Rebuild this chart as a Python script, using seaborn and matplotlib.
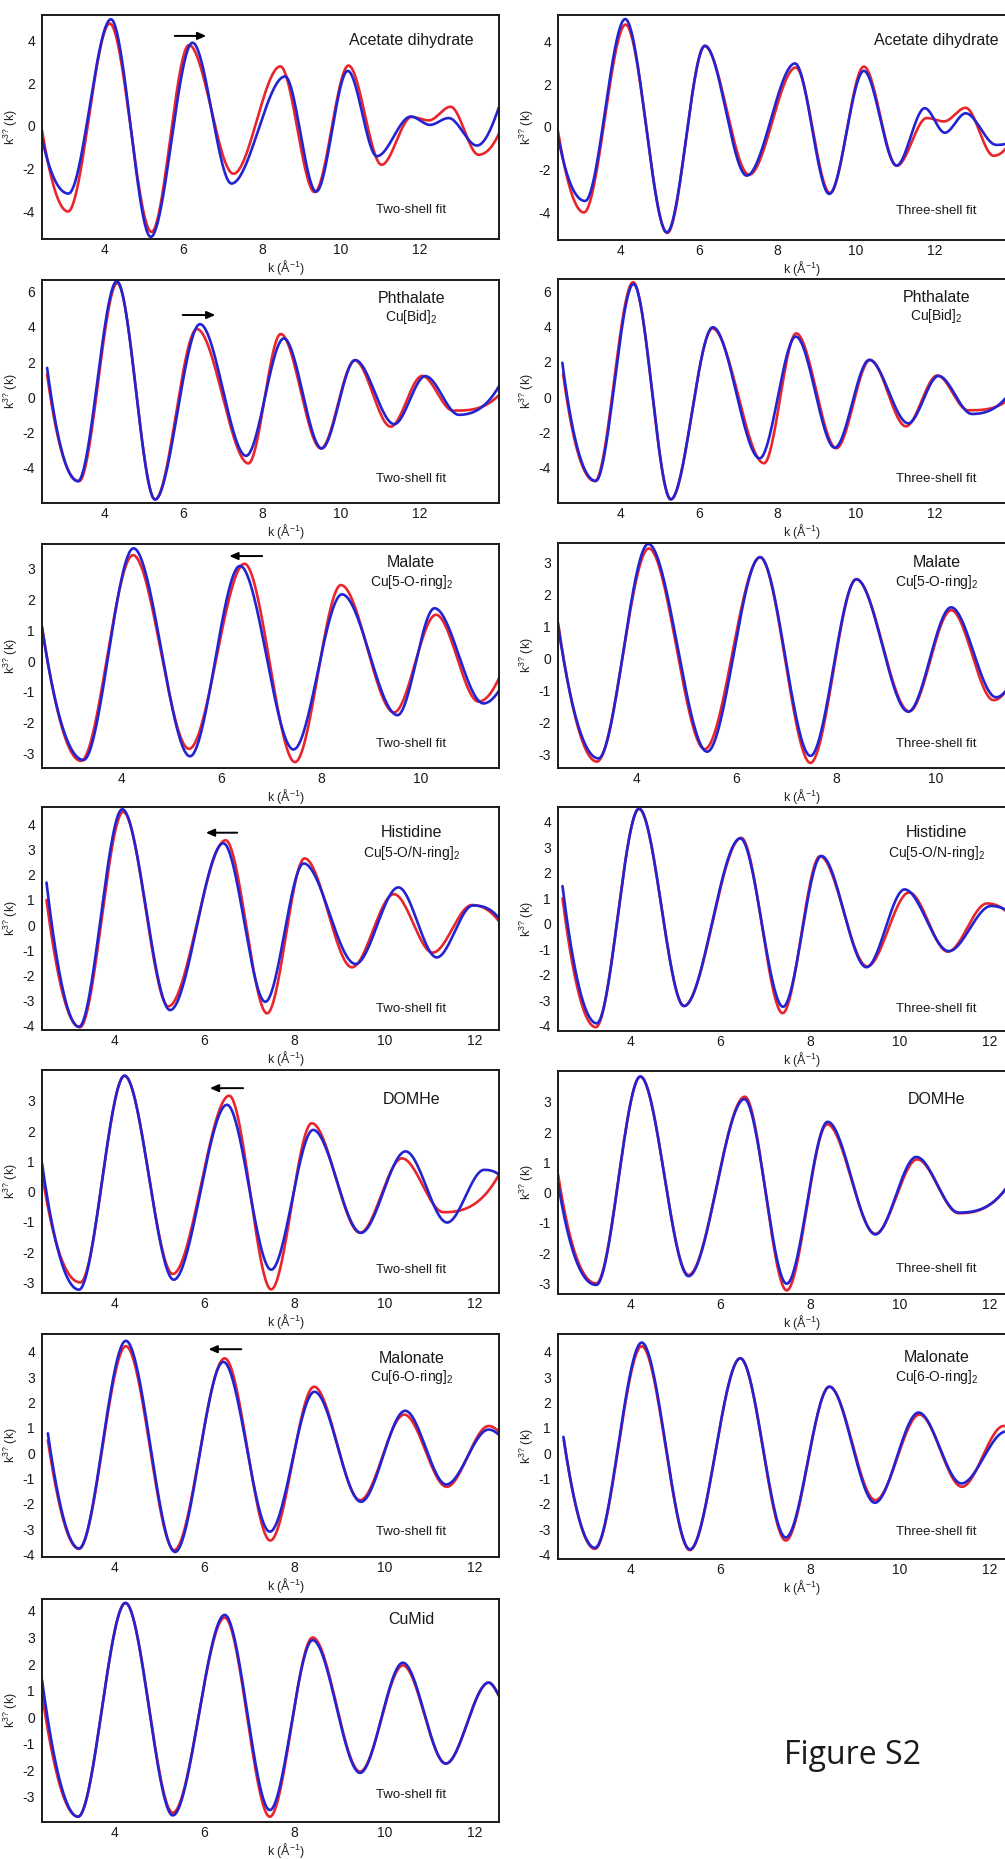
import numpy as np
import matplotlib
matplotlib.use("Agg")
import matplotlib.pyplot as plt
import seaborn as sns

# ---------------- data ----------------
# Row 1: Acetate dihydrate (red = data, blue = fit)
acetate_k_red = [2.42, 3.08, 4.14, 5.20, 6.15, 7.28, 8.47, 9.34, 10.20, 11.04, 11.80, 12.24, 12.79, 13.50, 14.02]
acetate_y_red = [-0.20, -4.01, 4.80, -4.97, 3.79, -2.24, 2.79, -3.10, 2.83, -1.82, 0.42, 0.26, 0.90, -1.35, -0.35]
acetate_k_two = [2.42, 3.09, 4.17, 5.18, 6.24, 7.23, 8.59, 9.38, 10.18, 10.92, 11.78, 12.27, 12.74, 13.46, 14.02]
acetate_y_two = [-0.60, -3.17, 5.00, -5.20, 3.90, -2.70, 2.32, -3.08, 2.58, -1.42, 0.44, 0.05, 0.37, -0.92, 0.89]
acetate_k_three = [2.42, 3.11, 4.13, 5.19, 6.16, 7.22, 8.45, 9.32, 10.20, 11.03, 11.75, 12.26, 12.79, 13.57, 14.02]
acetate_y_three = [-0.45, -3.47, 5.06, -4.94, 3.81, -2.28, 2.98, -3.14, 2.63, -1.81, 0.88, -0.27, 0.64, -0.84, -0.60]

# Row 2: Phthalate Cu[Bid]2
phthal_k_red = [2.55, 3.36, 4.33, 5.29, 6.35, 7.66, 8.48, 9.50, 10.36, 11.27, 12.07, 12.85, 14.02]
phthal_y_red = [1.30, -4.76, 6.50, -5.80, 3.88, -3.75, 3.60, -2.90, 2.10, -1.66, 1.22, -0.75, 0.13]
phthal_k_two = [2.55, 3.33, 4.32, 5.29, 6.43, 7.60, 8.56, 9.52, 10.37, 11.36, 12.15, 13.00, 14.02]
phthal_y_two = [1.68, -4.76, 6.60, -5.80, 4.16, -3.32, 3.35, -2.90, 2.12, -1.52, 1.21, -0.99, 0.64]
phthal_k_three = [2.53, 3.38, 4.34, 5.29, 6.36, 7.55, 8.47, 9.46, 10.34, 11.33, 12.10, 12.95, 14.02]
phthal_y_three = [1.94, -4.75, 6.40, -5.79, 3.95, -3.47, 3.42, -2.87, 2.10, -1.49, 1.19, -0.96, 0.60]

# Row 3: Malate Cu[5-O-ring]2
malate_k_red = [2.42, 3.20, 4.24, 5.36, 6.47, 7.48, 8.40, 9.46, 10.30, 11.15, 11.56]
malate_y_red = [1.12, -3.23, 3.43, -2.84, 3.15, -3.27, 2.46, -1.66, 1.50, -1.31, -0.55]
malate_k_two = [2.42, 3.25, 4.25, 5.38, 6.38, 7.45, 8.42, 9.53, 10.27, 11.25, 11.56]
malate_y_two = [1.09, -3.20, 3.65, -3.08, 3.08, -2.86, 2.16, -1.75, 1.71, -1.37, -0.96]
malate_k_three = [2.42, 3.23, 4.23, 5.41, 6.47, 7.48, 8.40, 9.44, 10.30, 11.20, 11.56]
malate_y_three = [1.04, -3.13, 3.57, -2.92, 3.16, -3.05, 2.47, -1.67, 1.59, -1.22, -0.60]

# Row 4: Histidine Cu[5-O/N-ring]2
hist_k_red = [2.50, 3.24, 4.20, 5.20, 6.47, 7.39, 8.22, 9.27, 10.20, 11.06, 11.93, 12.53]
hist_y_red = [1.00, -4.05, 4.50, -3.22, 3.37, -3.50, 2.65, -1.67, 1.23, -1.09, 0.80, 0.15]
hist_k_two = [2.50, 3.22, 4.18, 5.24, 6.42, 7.35, 8.20, 9.35, 10.30, 11.15, 11.95, 12.53]
hist_y_two = [1.69, -4.03, 4.60, -3.37, 3.25, -3.04, 2.45, -1.54, 1.50, -1.28, 0.78, 0.27]
hist_k_three = [2.50, 3.26, 4.20, 5.20, 6.45, 7.40, 8.25, 9.25, 10.10, 11.08, 12.02, 12.53]
hist_y_three = [1.48, -3.90, 4.52, -3.22, 3.35, -3.25, 2.66, -1.70, 1.35, -1.07, 0.70, 0.30]

# Row 5: DOMHe
domhe_k_red = [2.40, 3.25, 4.23, 5.30, 6.55, 7.48, 8.38, 9.45, 10.38, 11.30, 12.53]
domhe_y_red = [0.61, -3.00, 3.83, -2.72, 3.17, -3.23, 2.26, -1.36, 1.10, -0.68, 0.56]
domhe_k_two = [2.40, 3.22, 4.23, 5.32, 6.50, 7.48, 8.41, 9.47, 10.46, 11.38, 12.20, 12.53]
domhe_y_two = [0.94, -3.24, 3.83, -2.91, 2.87, -2.58, 2.04, -1.36, 1.33, -1.02, 0.72, 0.56]
domhe_k_three = [2.40, 3.25, 4.23, 5.30, 6.54, 7.48, 8.39, 9.45, 10.36, 11.30, 12.53]
domhe_y_three = [0.33, -3.05, 3.84, -2.76, 3.09, -3.01, 2.34, -1.38, 1.18, -0.66, 0.55]

# Row 6: Malonate Cu[6-O-ring]2
malon_k_red = [2.53, 3.22, 4.26, 5.33, 6.45, 7.46, 8.43, 9.45, 10.43, 11.37, 12.30, 12.53]
malon_y_red = [0.50, -3.78, 4.22, -3.83, 3.74, -3.45, 2.62, -1.86, 1.52, -1.33, 1.07, 0.85]
malon_k_two = [2.53, 3.22, 4.26, 5.35, 6.42, 7.45, 8.44, 9.47, 10.45, 11.36, 12.30, 12.53]
malon_y_two = [0.78, -3.76, 4.43, -3.90, 3.60, -3.10, 2.42, -1.92, 1.67, -1.24, 0.93, 0.72]
malon_k_three = [2.52, 3.22, 4.26, 5.33, 6.45, 7.46, 8.43, 9.44, 10.41, 11.36, 12.35, 12.53]
malon_y_three = [0.64, -3.74, 4.36, -3.80, 3.74, -3.33, 2.62, -1.96, 1.60, -1.20, 0.85, 0.80]

# Row 7: CuMid
cumid_k_red = [2.40, 3.20, 4.25, 5.30, 6.45, 7.45, 8.40, 9.45, 10.40, 11.35, 12.30, 12.53]
cumid_y_red = [0.90, -3.75, 4.30, -3.60, 3.75, -3.75, 3.00, -2.05, 1.95, -1.75, 1.30, 0.80]
cumid_k_two = [2.40, 3.20, 4.25, 5.30, 6.45, 7.45, 8.40, 9.45, 10.40, 11.35, 12.30, 12.53]
cumid_y_two = [1.40, -3.75, 4.30, -3.70, 3.85, -3.50, 2.90, -2.10, 2.05, -1.75, 1.30, 0.80]

# annotations: arrows (k start, k end, y)
arrows = {
    "acetate": (5.72, 6.66, 4.22),
    "phthal": (5.92, 6.89, 4.68),
    "malate": (6.88, 6.11, 3.40),
    "hist": (6.79, 5.97, 3.67),
    "domhe": (6.92, 6.06, 3.42),
    "malon": (6.88, 6.03, 4.10),
}

# ---------------- helpers ----------------
def pchip(xk, yk, xs):
    xk = np.asarray(xk, float); yk = np.asarray(yk, float)
    n = len(xk)
    h = np.diff(xk); d = np.diff(yk) / h
    m = np.zeros(n)
    for i in range(1, n - 1):
        if d[i - 1] * d[i] <= 0:
            m[i] = 0.0
        else:
            w1 = 2 * h[i] + h[i - 1]; w2 = h[i] + 2 * h[i - 1]
            m[i] = (w1 + w2) / (w1 / d[i - 1] + w2 / d[i])
    def endslope(h0, h1, d0, d1):
        s = ((2 * h0 + h1) * d0 - h0 * d1) / (h0 + h1)
        if np.sign(s) != np.sign(d0):
            s = 0.0
        elif np.sign(d0) != np.sign(d1) and abs(s) > abs(3 * d0):
            s = 3 * d0
        return s
    m[0] = endslope(h[0], h[1], d[0], d[1])
    m[-1] = endslope(h[-1], h[-2], d[-1], d[-2])
    idx = np.clip(np.searchsorted(xk, xs) - 1, 0, n - 2)
    t = (xs - xk[idx]) / h[idx]
    h00 = 2 * t**3 - 3 * t**2 + 1; h10 = t**3 - 2 * t**2 + t
    h01 = -2 * t**3 + 3 * t**2; h11 = t**3 - t**2
    return h00 * yk[idx] + h10 * h[idx] * m[idx] + h01 * yk[idx + 1] + h11 * h[idx] * m[idx + 1]

sns.set_style("white")
plt.rcParams["font.family"] = ["Liberation Sans", "DejaVu Sans"]
plt.rcParams["axes.unicode_minus"] = False
plt.rcParams["mathtext.fontset"] = "custom"
plt.rcParams["mathtext.rm"] = "Liberation Sans"
plt.rcParams["mathtext.it"] = "Liberation Sans:italic"
plt.rcParams["mathtext.bf"] = "Liberation Sans:bold"

RED = "#e8262b"
BLUE = "#2323d2"
W, H = 1005, 1859
fig = plt.figure(figsize=(W / 100, H / 100), dpi=100)

def make_ax(x0, ytop, ybot, w):
    return fig.add_axes([x0 / W, 1 - ybot / H, w / W, (ybot - ytop) / H])

def draw_curve(ax, ks, ys, color):
    ks = np.asarray(ks, float)
    xs = np.linspace(ks[0], ks[-1], 600)
    ysm = pchip(ks, ys, xs)
    sns.lineplot(x=xs, y=ysm, ax=ax, color=color, lw=1.9, estimator=None, sort=False)

def style_ax(ax, xlim, ylim, xticks, yticks):
    ax.set_xlim(*xlim); ax.set_ylim(*ylim)
    ax.set_xticks(xticks); ax.set_yticks(yticks)
    ax.set_xticklabels([str(v) for v in xticks])
    ax.set_yticklabels([str(v) for v in yticks])
    for s in ax.spines.values():
        s.set_visible(True); s.set_color("#1a1a1a"); s.set_linewidth(1.4)
    ax.tick_params(axis="x", direction="in", length=4, width=1.1, labelsize=10, pad=3, colors="#1a1a1a")
    ax.tick_params(axis="y", direction="out", length=3, width=1.1, labelsize=10, pad=2, colors="#1a1a1a")
    ax.set_xlabel("k (Å$^{\\mathregular{-1}}$)", fontsize=9, labelpad=-1)
    ax.xaxis.set_label_coords(0.535, -0.085)
    ax.set_ylabel("k$^{\\mathregular{3?}}$ (k)", fontsize=9, labelpad=2)
    ax.set_facecolor("white")

panels = [
    # (col, ytop, ybot, xlim, ylim, xticks, yticks, red, blue, title, sub, fit, arrow, title_y, sub_y, fit_y)
    (0, 15, 239, (2.42, 14.02), (-5.3, 5.2), [4, 6, 8, 10, 12], [-4, -2, 0, 2, 4],
     (acetate_k_red, acetate_y_red), (acetate_k_two, acetate_y_two), "Acetate dihydrate", None, "Two-shell fit", "acetate", 0.885, None, 0.13),
    (1, 15, 240, (2.42, 14.02), (-5.3, 5.25), [4, 6, 8, 10, 12], [-4, -2, 0, 2, 4],
     (acetate_k_red, acetate_y_red), (acetate_k_three, acetate_y_three), "Acetate dihydrate", None, "Three-shell fit", None, 0.885, None, 0.13),
    (0, 280, 503, (2.42, 14.02), (-6.0, 6.67), [4, 6, 8, 10, 12], [-4, -2, 0, 2, 4, 6],
     (phthal_k_red, phthal_y_red), (phthal_k_two, phthal_y_two), "Phthalate", "Cu[Bid]$_{\\mathregular{2}}$", "Two-shell fit", "phthal", 0.918, 0.835, 0.106),
    (1, 279, 503, (2.42, 14.02), (-6.0, 6.68), [4, 6, 8, 10, 12], [-4, -2, 0, 2, 4, 6],
     (phthal_k_red, phthal_y_red), (phthal_k_three, phthal_y_three), "Phthalate", "Cu[Bid]$_{\\mathregular{2}}$", "Three-shell fit", None, 0.918, 0.835, 0.106),
    (0, 544, 768, (2.42, 11.56), (-3.46, 3.79), [4, 6, 8, 10], [-3, -2, -1, 0, 1, 2, 3],
     (malate_k_red, malate_y_red), (malate_k_two, malate_y_two), "Malate", "Cu[5-O-ring]$_{\\mathregular{2}}$", "Two-shell fit", "malate", 0.917, 0.832, 0.107),
    (1, 543, 768, (2.42, 11.56), (-3.43, 3.6), [4, 6, 8, 10], [-3, -2, -1, 0, 1, 2, 3],
     (malate_k_red, malate_y_red), (malate_k_three, malate_y_three), "Malate", "Cu[5-O-ring]$_{\\mathregular{2}}$", "Three-shell fit", None, 0.912, 0.827, 0.107),
    (0, 807, 1030, (2.40, 12.53), (-4.16, 4.69), [4, 6, 8, 10, 12], [-4, -3, -2, -1, 0, 1, 2, 3, 4],
     (hist_k_red, hist_y_red), (hist_k_two, hist_y_two), "Histidine", "Cu[5-O/N-ring]$_{\\mathregular{2}}$", "Two-shell fit", "hist", 0.885, 0.794, 0.093),
    (1, 807, 1031, (2.40, 12.53), (-4.2, 4.58), [4, 6, 8, 10, 12], [-4, -3, -2, -1, 0, 1, 2, 3, 4],
     (hist_k_red, hist_y_red), (hist_k_three, hist_y_three), "Histidine", "Cu[5-O/N-ring]$_{\\mathregular{2}}$", "Three-shell fit", None, 0.885, 0.794, 0.098),
    (0, 1070, 1293, (2.40, 12.53), (-3.35, 4.02), [4, 6, 8, 10, 12], [-3, -2, -1, 0, 1, 2, 3],
     (domhe_k_red, domhe_y_red), (domhe_k_two, domhe_y_two), "DOMHe", None, "Two-shell fit", "domhe", 0.869, None, 0.103),
    (1, 1071, 1294, (2.40, 12.53), (-3.35, 4.02), [4, 6, 8, 10, 12], [-3, -2, -1, 0, 1, 2, 3],
     (domhe_k_red, domhe_y_red), (domhe_k_three, domhe_y_three), "DOMHe", None, "Three-shell fit", None, 0.87, None, 0.11),
    (0, 1334, 1557, (2.40, 12.53), (-4.1, 4.7), [4, 6, 8, 10, 12], [-4, -3, -2, -1, 0, 1, 2, 3, 4],
     (malon_k_red, malon_y_red), (malon_k_two, malon_y_two), "Malonate", "Cu[6-O-ring]$_{\\mathregular{2}}$", "Two-shell fit", "malon", 0.891, 0.809, 0.113),
    (1, 1334, 1559, (2.40, 12.53), (-4.18, 4.7), [4, 6, 8, 10, 12], [-4, -3, -2, -1, 0, 1, 2, 3, 4],
     (malon_k_red, malon_y_red), (malon_k_three, malon_y_three), "Malonate", "Cu[6-O-ring]$_{\\mathregular{2}}$", "Three-shell fit", None, 0.897, 0.81, 0.12),
    (0, 1599, 1822, (2.40, 12.53), (-3.95, 4.45), [4, 6, 8, 10, 12], [-3, -2, -1, 0, 1, 2, 3, 4],
     (cumid_k_red, cumid_y_red), (cumid_k_two, cumid_y_two), "CuMid", None, "Two-shell fit", None, 0.91, None, 0.12),
]

for (col, ytop, ybot, xlim, ylim, xt, yt, red, blue, title, sub, fit, arr, ty, sy, fy) in panels:
    if col == 0:
        ax = make_ax(42, ytop, ybot, 457)
        tx = 0.808
    else:
        ax = make_ax(558, ytop, ybot, 456)
        tx = 0.83
    draw_curve(ax, red[0], red[1], RED)
    draw_curve(ax, blue[0], blue[1], BLUE)
    style_ax(ax, xlim, ylim, xt, yt)
    ax.text(tx, ty, title, transform=ax.transAxes, ha="center", va="center", fontsize=11.5, color="#1a1a1a")
    if sub:
        ax.text(tx, sy, sub, transform=ax.transAxes, ha="center", va="center", fontsize=10, color="#1a1a1a")
    ax.text(tx, fy, fit, transform=ax.transAxes, ha="center", va="center", fontsize=9.5, color="#1a1a1a")
    if arr:
        k0, k1, ya = arrows[arr]
        ax.annotate("", xy=(k1, ya), xytext=(k0, ya),
                    arrowprops=dict(arrowstyle="-|>,head_length=0.5,head_width=0.22", color="black", lw=1.4))

fig.text(853 / W, 1 - 1756 / H, "Figure S2", ha="center", va="center", fontsize=23,
         family=["Open Sans", "DejaVu Sans"], color="#1a1a1a")

fig.savefig("out.png", dpi=100, facecolor="white")
